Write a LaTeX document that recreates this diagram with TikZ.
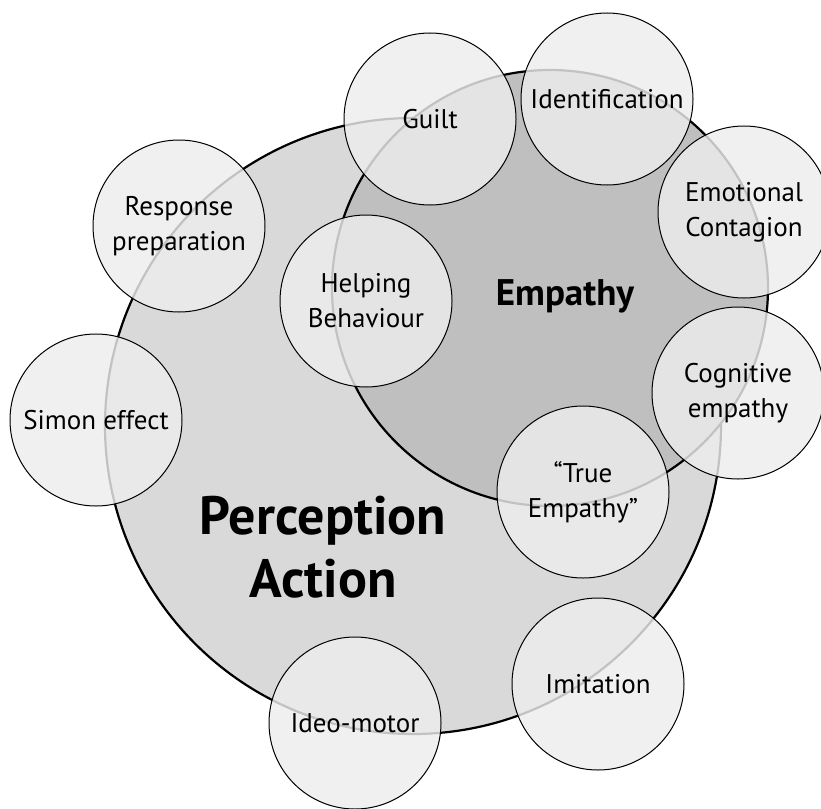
\documentclass[tikz,border=0pt]{standalone}
\usepackage{fontspec}
\setmainfont{PT Sans}
\definecolor{outerfill}{gray}{0.85}
\definecolor{innerfill}{gray}{0.75}
\definecolor{bubblefill}{gray}{0.93}

\begin{document}
\begin{tikzpicture}[x=1pt,y=-1pt,
  field/.style={circle,draw=black,line width=2.2pt,inner sep=0pt},
  bubble/.style={circle,draw=black,line width=1pt,fill=bubblefill,fill opacity=0.82,
    text opacity=1,minimum size=172pt,inner sep=0pt,align=center,
    font=\fontsize{27}{35}\selectfont}]
  			\useasboundingbox (0,0) rectangle (821,808);
  			\node[field,fill=outerfill,minimum size=616pt] (PA) at (413,426) {};
  			\node[field,fill=innerfill,minimum size=436pt] (EM) at (550,288) {};
  			\node[font=\fontsize{54}{63}\selectfont\bfseries,align=center] (PAtext) at (323,547) {Perception\\Action};
  			\node[font=\fontsize{37}{44}\selectfont\bfseries] (EMtext) at (565,296) {Empathy};
  			\node[bubble] (guilt) at (430,119) {Guilt};
  			\node[bubble] (ident) at (607,99) {Identification};
  			\node[bubble] (contagion) at (744,212) {Emotional\\Contagion};
  			\node[bubble] (response) at (179,226) {Response\\preparation};
  			\node[bubble] (helping) at (366,301) {Helping\\Behaviour};
  			\node[bubble] (cognitive) at (738,393) {Cognitive\\empathy};
  			\node[bubble] (simon) at (96,420) {Simon effect};
  			\node[bubble] (true) at (583,492) {“True\\Empathy”};
  			\node[bubble] (imitation) at (598,684) {Imitation};
  			\node[bubble] (ideo) at (355,723) {Ideo-motor};
		\end{tikzpicture}
\end{document}
